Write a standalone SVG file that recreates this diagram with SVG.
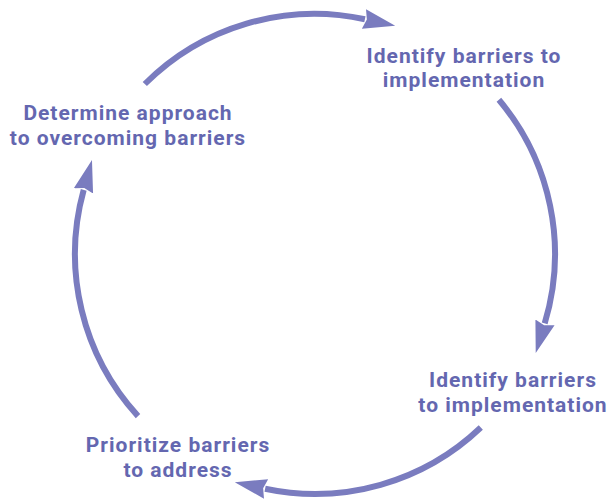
<svg xmlns="http://www.w3.org/2000/svg" width="611" height="499" viewBox="0 0 611 499">
<style>
.lbl{font-family:Roboto,"Liberation Sans",sans-serif;font-weight:bold;font-size:21px;fill:#6467b0;text-anchor:middle;letter-spacing:1px}
.arc{fill:none;stroke:#7a7cbf;stroke-width:6;marker-end:url(#ah)}
</style>
<defs>
<marker id="ah" markerUnits="userSpaceOnUse" markerWidth="34" markerHeight="22" refX="1" refY="11" orient="auto" viewBox="0 0 34 22">
<path d="M0,1 L32,11 L0,21 L3,11 Z" fill="#7a7cbf"/>
</marker>
</defs>
<g id="connectors">
<path class="arc" d="M 144.8 84 A 240 240 0 0 1 364.9 19.2"/>
<path class="arc" d="M 498.9 99.7 A 240 240 0 0 1 544.7 323.4"/>
<path class="arc" d="M 480.8 427.5 A 240 240 0 0 1 265.1 488.7"/>
<path class="arc" d="M 138 416.1 A 240 240 0 0 1 83.7 189.9"/>
</g>
<g id="node-identify-top">
<text class="lbl" x="464" y="63">Identify barriers to</text>
<text class="lbl" x="464" y="87">implementation</text>
</g>
<g id="node-identify-right">
<text class="lbl" x="513" y="387">Identify barriers</text>
<text class="lbl" x="513" y="412">to implementation</text>
</g>
<g id="node-prioritize">
<text class="lbl" x="178" y="452">Prioritize barriers</text>
<text class="lbl" x="178" y="477">to address</text>
</g>
<g id="node-determine">
<text class="lbl" x="128" y="120">Determine approach</text>
<text class="lbl" x="128" y="145">to overcoming barriers</text>
</g>
</svg>
